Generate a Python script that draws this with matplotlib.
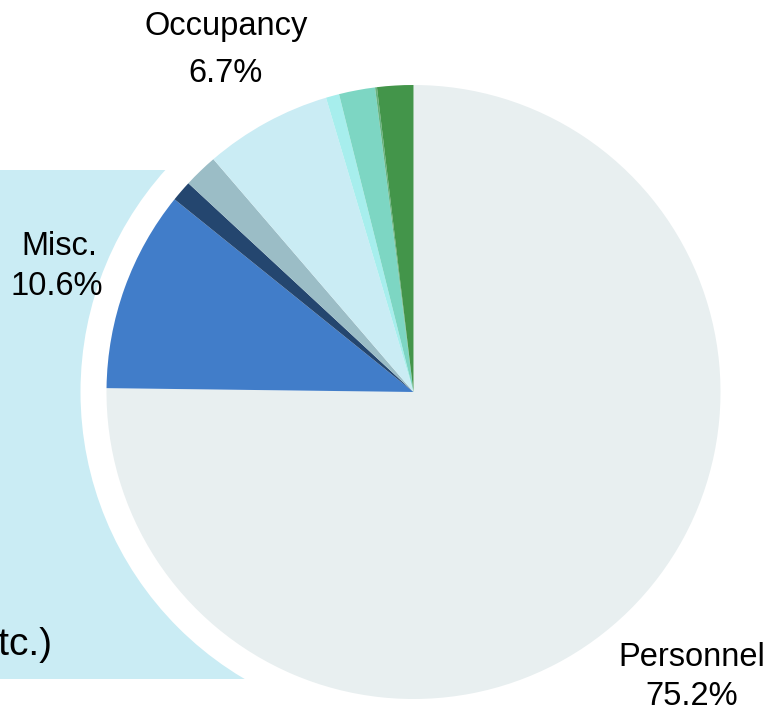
import matplotlib.pyplot as plt
from matplotlib.patches import Rectangle, Circle

# parts du budget (en %), dans le sens horaire depuis midi
categories = ['Personnel', 'Misc.', 'Equipment', 'Supplies', 'Occupancy',
              'Travel', 'Contracts', 'Other', 'Training']
valeurs = [75.2, 10.6, 1.1, 1.8, 6.7, 0.7, 1.9, 0.1, 1.9]
couleurs = ['#e8eff0', '#417dc9', '#24466f', '#9bbdc6', '#caecf4',
            '#a7eeed', '#7dd6c3', '#66b27f', '#43954a']

# libellés affichés : (texte, x, y de la ligne de base en pixels)
libelles = [
    ('Occupancy', 226, 35), ('6.7%', 226, 82),
    ('Misc.', 59, 255), ('10.6%', 57, 295),
    ('Personnel', 692, 666), ('75.2%', 692, 705),
]

W, H = 782, 709
fig = plt.figure(figsize=(W / 100, H / 100), dpi=100)
ax = fig.add_axes([0, 0, 1, 1])
ax.set_xlim(0, W)
ax.set_ylim(0, H)
ax.set_aspect('equal')
ax.axis('off')

cx, cy = 413.5, H - 392
rayon = 307

# bloc bleu clair derrière, découpé par un anneau blanc
ax.add_patch(Rectangle((0, H - 679), 413, 679 - 170, color='#caecf4', lw=0, zorder=0))
ax.add_patch(Circle((cx, cy), 333, color='white', lw=0, zorder=1))

wedges, _ = ax.pie(valeurs, colors=couleurs, startangle=90, counterclock=False,
                   center=(cx, cy), radius=rayon, wedgeprops=dict(linewidth=0))
for w in wedges:
    w.set_zorder(2)

ax.set_xlim(0, W)
ax.set_ylim(0, H)

police = 'Liberation Sans'
for txt, x, y in libelles:
    ax.text(x, H - y, txt, ha='center', va='baseline', fontsize=23.5,
            family=police, color='black', zorder=3)

# libellé coupé au bord gauche
ax.text(52, H - 655, '(Services, etc.)', ha='right', va='baseline', fontsize=28,
        family=police, color='black', zorder=3)

fig.savefig('out.png', dpi=100)
